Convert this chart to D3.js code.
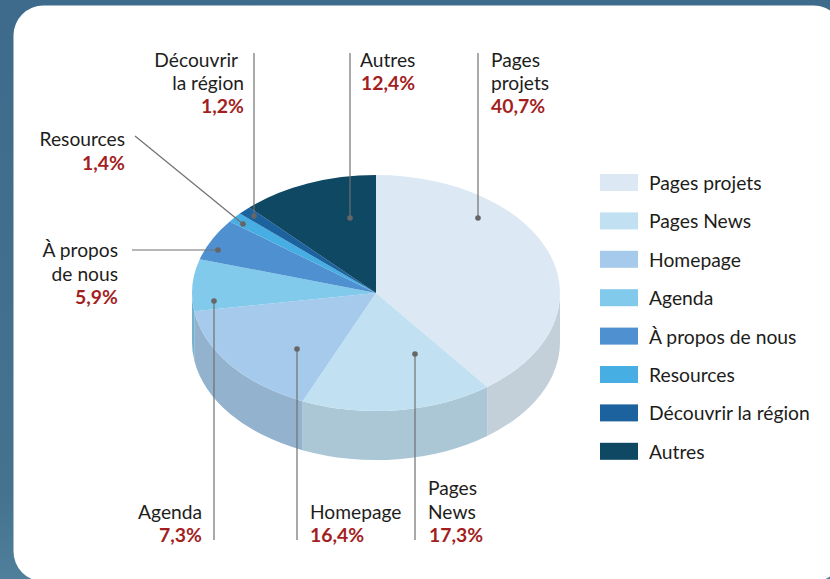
<!DOCTYPE html>
<html><head><meta charset="utf-8">
<script src="https://cdn.jsdelivr.net/npm/d3@7"></script>
<style>html,body{margin:0;padding:0;background:#fff}svg{display:block}text{font-family:Lato,sans-serif}</style>
</head><body><svg id="c" width="830" height="579"></svg>
<script>
const categories=["Pages projets","Pages News","Homepage","Agenda","À propos de nous","Resources","Découvrir la région","Autres"];
const values=[40.7,17.3,16.4,7.3,5.9,1.4,1.2,12.4];
const valueLabels=["40,7%","17,3%","16,4%","7,3%","5,9%","1,4%","1,2%","12,4%"];
const topColors=["#dce9f4","#c1e1f2","#a6caeb","#82caec","#4f90d0","#46aee2","#1c629f","#0e4863"];
const sideColors=["#c3d0da","#abc7d5","#93b2ce","#74b3d0","#4680b8","#3e9ac8","#19578d","#0c4058"];
const calloutLines=[["Pages","projets"],["Pages","News"],["Homepage"],["Agenda"],["À propos","de nous"],["Resources"],["Découvrir","la région"],["Autres"]];

const cx=376,cy=293,rx=184,ry=118,depth=49,k=ry/rx;
const leaders=[
 {l:[478,53,478,218],t:[[491,"start"],[491,"start"],[491,"start"]],y:67,lh:23},
 {l:[415,540,415,354],t:[[428,"start"],[428,"start"],[429,"start"]],y:495,lh:23.5},
 {l:[297,540,297,349],t:[[310,"start"],[310,"start"]],y:518.5,lh:23.5},
 {l:[214,540,214,301],t:[[202,"end"],[202,"end"]],y:518.5,lh:23.5},
 {l:[132,250,218,250],t:[[118,"end"],[118,"end"],[118,"end"]],y:257,lh:23.5},
 {l:[135,136,243,224],t:[[125,"end"],[125,"end"]],y:145.5,lh:24},
 {l:[254,53,254,216],t:[[238,"end"],[244,"end"],[244,"end"]],y:67,lh:23},
 {l:[350,53,350,218],t:[[360,"start"],[361,"start"]],y:67,lh:23}
];
const svg=d3.select("#c");
const defs=svg.append("defs");
const bg=defs.append("linearGradient").attr("id","bg").attr("x1",0).attr("y1",0).attr("x2",0).attr("y2",1);
bg.append("stop").attr("offset",0).attr("stop-color","#3e6b8b");
bg.append("stop").attr("offset",.85).attr("stop-color","#44728f");
bg.append("stop").attr("offset",1).attr("stop-color","#4f7f9a");
svg.append("rect").attr("width",830).attr("height",579).attr("fill","url(#bg)");
svg.append("rect").attr("x",13.5).attr("y",5.5).attr("width",830).attr("height",576).attr("rx",30).attr("fill","#fff");

const arcs=d3.pie().sort(null).value(d=>d)(values);
const disc=svg.append("g").attr("transform",`translate(${cx},${cy}) scale(1,${k})`);
const arcGen=d3.arc().innerRadius(0).outerRadius(rx);
const dz=depth/k;
const a0=Math.PI/2, a1=3*Math.PI/2;
function wall(d){
  const s=Math.max(d.startAngle,a0), e=Math.min(d.endAngle,a1);
  if(e<=s) return null;
  const p=d3.path(), conv=a=>a-Math.PI/2;
  p.arc(0,0,rx,conv(s),conv(e));
  p.lineTo(rx*Math.sin(e),-rx*Math.cos(e)+dz);
  p.arc(0,dz,rx,conv(e),conv(s),true);
  p.closePath();
  return p.toString();
}
disc.selectAll("path.w").data(arcs.filter(wall)).join("path").attr("class","w")
  .attr("d",wall).attr("fill",d=>sideColors[d.index]);
disc.selectAll("path.t").data(arcs).join("path").attr("class","t")
  .attr("d",arcGen).attr("fill",d=>topColors[d.index]);

const lg=svg.append("g").selectAll("g").data(categories).join("g")
  .attr("transform",(d,i)=>`translate(600,${174+i*38.4})`);
lg.append("rect").attr("width",38).attr("height",17).attr("fill",(d,i)=>topColors[i]);
lg.append("text").attr("x",49).attr("y",16).attr("font-size",19.3).attr("fill","#1d1d1b").text(d=>d);

leaders.forEach((c,i)=>{
  const [x1,y1,x2,y2]=c.l;
  svg.append("line").attr("x1",x1).attr("y1",y1).attr("x2",x2).attr("y2",y2).attr("stroke","#707070").attr("stroke-width",1.2);
  svg.append("circle").attr("cx",x2).attr("cy",y2).attr("r",2.8).attr("fill","#666");
  const rows=calloutLines[i].concat([valueLabels[i]]);
  rows.forEach((s,j)=>{
    const isVal=j===rows.length-1;
    svg.append("text").attr("x",c.t[j][0]).attr("y",c.y+j*c.lh).attr("text-anchor",c.t[j][1])
      .attr("font-size",isVal?19.4:19.2).attr("font-weight",isVal?700:400)
      .attr("fill",isVal?"#a31f1f":"#1d1d1b").text(s);
  });
});
</script></body></html>
